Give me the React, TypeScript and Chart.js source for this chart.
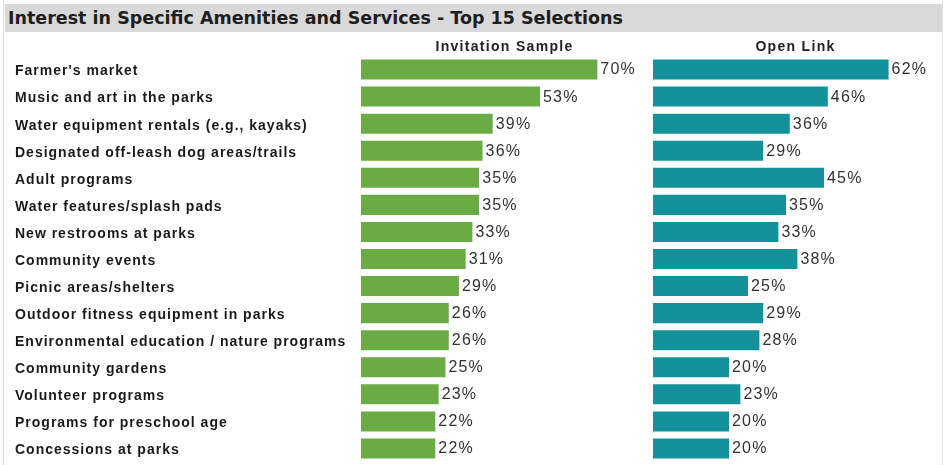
import React, { useEffect, useRef } from "react";
import { Chart, registerables } from "chart.js";

Chart.register(...registerables);

const categories = [
  "Farmer's market",
  "Music and art in the parks",
  "Water equipment rentals (e.g., kayaks)",
  "Designated off-leash dog areas/trails",
  "Adult programs",
  "Water features/splash pads",
  "New restrooms at parks",
  "Community events",
  "Picnic areas/shelters",
  "Outdoor fitness equipment in parks",
  "Environmental education / nature programs",
  "Community gardens",
  "Volunteer programs",
  "Programs for preschool age",
  "Concessions at parks",
];

const invitationSample = [70, 53, 39, 36, 35, 35, 33, 31, 29, 26, 26, 25, 23, 22, 22];
const openLink = [62, 46, 36, 29, 45, 35, 33, 38, 25, 29, 28, 20, 23, 20, 20];

const titleText = "Interest in Specific Amenities and Services - Top 15 Selections";
const leftHeader = "Invitation Sample";
const rightHeader = "Open Link";

const GREEN = "#6bab45";
const TEAL = "#14929b";
const FONT = '"Liberation Sans", Arial, sans-serif';

function makePlugins(header: string) {
  return [
    {
      id: "spacing",
      beforeDraw(chart: any) {
        chart.ctx.letterSpacing = "1px";
      },
      afterDraw(chart: any) {
        chart.ctx.letterSpacing = "0px";
      },
    },
    {
      id: "valueLabels",
      afterDatasetsDraw(chart: any) {
        const ctx = chart.ctx;
        const meta = chart.getDatasetMeta(0);
        const data = chart.data.datasets[0].data;
        ctx.save();
        ctx.font = `16px ${FONT}`;
        ctx.letterSpacing = "1.2px";
        ctx.fillStyle = "#333333";
        ctx.textBaseline = "middle";
        ctx.textAlign = "left";
        meta.data.forEach((el: any, i: number) => {
          ctx.fillText(`${data[i]}%`, el.x + 3, el.y + 0.5);
        });
        ctx.restore();
      },
    },
    {
      id: "header",
      afterDraw(chart: any) {
        const ctx = chart.ctx;
        const a = chart.chartArea;
        ctx.save();
        ctx.font = `bold 14px ${FONT}`;
        ctx.letterSpacing = "1.3px";
        ctx.fillStyle = "#222222";
        ctx.textAlign = "center";
        ctx.textBaseline = "middle";
        ctx.fillText(header, (a.left + a.right) / 2, a.top - 9);
        ctx.restore();
      },
    },
  ];
}

function BarPanel(props: {
  values: number[];
  color: string;
  header: string;
  showLabels: boolean;
  max: number;
  padLeft: number;
  padRight: number;
  axisWidth: number;
  left: number;
  width: number;
}) {
  const ref = useRef<HTMLCanvasElement | null>(null);
  useEffect(() => {
    if (!ref.current) return;
    const chart = new Chart(ref.current, {
      type: "bar",
      data: {
        labels: categories,
        datasets: [
          {
            data: props.values,
            backgroundColor: props.color,
            borderWidth: 0,
            barPercentage: 0.74,
            categoryPercentage: 1,
          },
        ],
      },
      options: {
        indexAxis: "y",
        animation: false,
        responsive: false,
        maintainAspectRatio: false,
        layout: {
          padding: { left: props.padLeft, right: props.padRight, top: 56, bottom: 3 },
        },
        plugins: {
          legend: { display: false },
          tooltip: { enabled: false },
          title: { display: false },
        },
        scales: {
          x: {
            display: false,
            min: 0,
            max: props.max,
          },
          y: {
            display: props.showLabels,
            grid: { display: false },
            border: { display: false },
            ticks: {
              crossAlign: "far",
              labelOffset: 2,
              padding: 0,
              color: "#1a1a1a",
              font: { family: FONT, size: 14, weight: "bold" },
            },
            afterFit: (scale: any) => {
              scale.width = props.axisWidth;
              scale.paddingTop = 0;
              scale.paddingBottom = 0;
            },
          },
        },
      },
      plugins: makePlugins(props.header),
    } as any);
    return () => chart.destroy();
  }, []);
  return (
    <canvas
      ref={ref}
      width={props.width}
      height={465}
      style={{ position: "absolute", left: props.left, top: 0, width: props.width, height: 465 }}
    />
  );
}

export default function App() {
  return (
    <div
      style={{
        position: "fixed",
        left: 0,
        top: 0,
        width: 951,
        height: 465,
        background: "#ffffff",
        overflow: "hidden",
      }}
    >
      <div
        style={{
          position: "absolute",
          left: 3,
          top: 0,
          width: 938,
          height: 470,
          borderLeft: "1px solid #d8d8d8",
          borderRight: "1px solid #e4e4e4",
        }}
      />
      <div
        style={{
          position: "absolute",
          left: 5,
          top: 4,
          width: 937,
          height: 28,
          background: "#d9d9d9",
          color: "#1e1e1e",
          fontFamily: '"DejaVu Sans", Verdana, sans-serif',
          fontWeight: "bold",
          fontSize: 17.5,
          lineHeight: "28px",
          paddingLeft: 3,
          boxSizing: "border-box",
          whiteSpace: "nowrap",
        }}
      >
        {titleText}
      </div>
      <BarPanel
        values={invitationSample}
        color={GREEN}
        header={leftHeader}
        showLabels={true}
        max={85}
        padLeft={15}
        padRight={12}
        axisWidth={346}
        left={0}
        width={660}
      />
      <BarPanel
        values={openLink}
        color={TEAL}
        header={rightHeader}
        showLabels={false}
        max={75}
        padLeft={13}
        padRight={13}
        axisWidth={0}
        left={640}
        width={311}
      />
    </div>
  );
}
